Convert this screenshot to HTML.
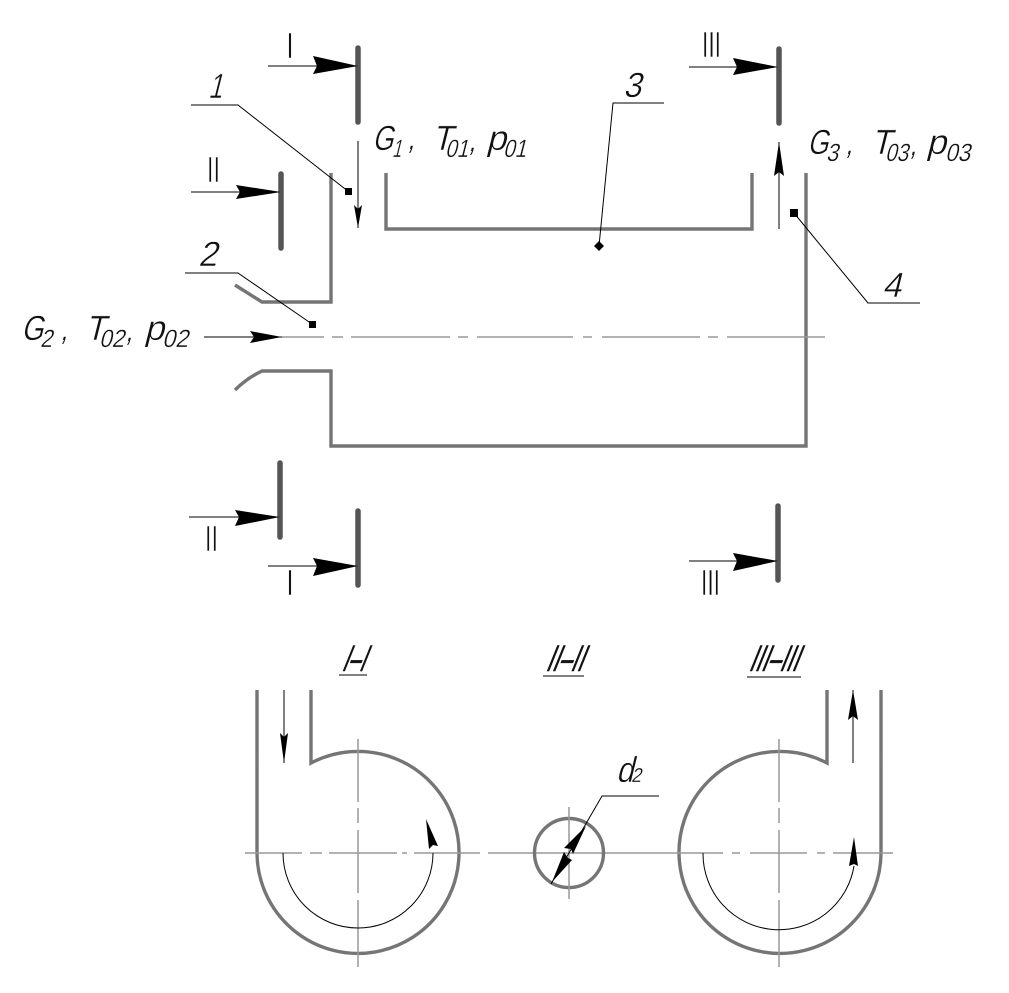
<!DOCTYPE html>
<html><head><meta charset="utf-8"><style>
html,body{margin:0;padding:0;background:#fff;width:1009px;height:993px;overflow:hidden}
svg{display:block}
text{font-family:"Liberation Sans",sans-serif;fill:#111;stroke:#fff;stroke-width:.45px;paint-order:fill stroke}
.w{fill:none;stroke:#757575;stroke-width:3.4;stroke-linejoin:miter}
.b{fill:none;stroke:#555;stroke-width:5.5;stroke-linecap:round}
.c{fill:none;stroke:#999;stroke-width:1.5}
.l{fill:none;stroke:#000;stroke-width:1}
.a{fill:#000;stroke:none}
.m{stroke-width:.5px}
.k{stroke:none;font-size:30px}
.u{font-size:25px;stroke-width:.3px}
.h{stroke:#111;stroke-width:.5px}
</style></head><body>
<svg width="1009" height="993" viewBox="0 0 1009 993" xmlns="http://www.w3.org/2000/svg">
<!-- section bars -->
<path class="b" d="M358 48V122M281 174V248M779 49V123M280 463V537M358 511V585M778 506V580"/>
<!-- body -->
<path class="w" d="M331 173V302H262L235 285"/>
<path class="w" d="M235 390Q247 378 262 371H331V446H806V173"/>
<path class="w" d="M386 173V229H752V173"/>
<!-- centre line main -->
<path class="c" d="M282 337H324M332 337H343M351 337H450M458 337H468M477 337H573M583 337H592M602 337H700M708 337H718M727 337H825"/>
<!-- section arrows -->
<g class="l">
<path d="M268 66H356M191 192H279M689 67H776M189 517H278M268 566H356M689 561H776"/>
<path d="M204 337H282M358 141V228M779 229V142"/>
<path d="M191 105H238L349 192M185 273H238L312 324M664 103H613L599 246M920 303H868L794 213"/>
</g>
<path class="a" d="M358 66L313 56L317 66L313 74Z"/>
<path class="a" d="M281 192L236 185L240 192L236 199Z"/>
<path class="a" d="M778 67L733 58L737 67L733 75Z"/>
<path class="a" d="M280 517L235 510L239 517L235 526Z"/>
<path class="a" d="M358 566L313 558L317 566L313 576Z"/>
<path class="a" d="M778 561L733 553L737 561L733 571Z"/>
<path class="a" d="M282 337L250 331L254 337L250 343Z"/>
<path class="a" d="M358 228L354 205L358 209L362 205Z"/>
<path class="a" d="M779 142L774 176L779 172L784 176Z"/>
<rect class="a" x="345" y="188" width="7" height="7"/>
<rect class="a" x="309" y="321" width="7" height="7"/>
<rect class="a" x="790" y="209" width="8" height="8"/>
<path class="a" d="M599 241L604 246L599 251L594 246Z"/>
<!-- roman numerals -->
<g font-size="36">
<text class="m" x="286.500" y="58" textLength="7" lengthAdjust="spacingAndGlyphs">I</text>
<text class="m" x="207" y="182" textLength="13" lengthAdjust="spacingAndGlyphs">II</text>
<text class="m" x="702" y="57" textLength="19" lengthAdjust="spacingAndGlyphs">III</text>
<text class="m" x="205" y="551" textLength="13" lengthAdjust="spacingAndGlyphs">II</text>
<text class="m" x="286.500" y="595" textLength="7" lengthAdjust="spacingAndGlyphs">I</text>
<text class="m" x="701" y="595" textLength="19" lengthAdjust="spacingAndGlyphs">III</text>
</g>
<!-- parameter labels -->
<g font-size="35">
<g transform="translate(372,150) skewX(-14)"><text textLength="21" lengthAdjust="spacingAndGlyphs">G</text></g>
<g transform="translate(392,157) skewX(-14)"><text class="u" textLength="9" lengthAdjust="spacingAndGlyphs">1</text></g>
<g transform="translate(408,149) skewX(-14)"><text class="k" textLength="6" lengthAdjust="spacingAndGlyphs">,</text></g>
<g transform="translate(432,150) skewX(-14)"><text textLength="20" lengthAdjust="spacingAndGlyphs">T</text></g>
<g transform="translate(445,157) skewX(-14)"><text class="u" textLength="23" lengthAdjust="spacingAndGlyphs">01</text></g>
<g transform="translate(469,151) skewX(-14)"><text class="k" textLength="6" lengthAdjust="spacingAndGlyphs">,</text></g>
<g transform="translate(486,150) skewX(-14)"><text textLength="20" lengthAdjust="spacingAndGlyphs">p</text></g>
<g transform="translate(503,157) skewX(-14)"><text class="u" textLength="23" lengthAdjust="spacingAndGlyphs">01</text></g>

<g transform="translate(21,340) skewX(-14)"><text textLength="22" lengthAdjust="spacingAndGlyphs">G</text></g>
<g transform="translate(40,347) skewX(-14)"><text class="u" textLength="12" lengthAdjust="spacingAndGlyphs">2</text></g>
<g transform="translate(61,340) skewX(-14)"><text class="k" textLength="6" lengthAdjust="spacingAndGlyphs">,</text></g>
<g transform="translate(85,340) skewX(-14)"><text textLength="20" lengthAdjust="spacingAndGlyphs">T</text></g>
<g transform="translate(99,347) skewX(-14)"><text class="u" textLength="25" lengthAdjust="spacingAndGlyphs">02</text></g>
<g transform="translate(126,341) skewX(-14)"><text class="k" textLength="6" lengthAdjust="spacingAndGlyphs">,</text></g>
<g transform="translate(144,340) skewX(-14)"><text textLength="20" lengthAdjust="spacingAndGlyphs">p</text></g>
<g transform="translate(162,347) skewX(-14)"><text class="u" textLength="26" lengthAdjust="spacingAndGlyphs">02</text></g>

<g transform="translate(807,154) skewX(-14)"><text textLength="21" lengthAdjust="spacingAndGlyphs">G</text></g>
<g transform="translate(826,161) skewX(-14)"><text class="u" textLength="12" lengthAdjust="spacingAndGlyphs">3</text></g>
<g transform="translate(846,154) skewX(-14)"><text class="k" textLength="6" lengthAdjust="spacingAndGlyphs">,</text></g>
<g transform="translate(871,154) skewX(-14)"><text textLength="20" lengthAdjust="spacingAndGlyphs">T</text></g>
<g transform="translate(885,161) skewX(-14)"><text class="u" textLength="23" lengthAdjust="spacingAndGlyphs">03</text></g>
<g transform="translate(910,155) skewX(-14)"><text class="k" textLength="6" lengthAdjust="spacingAndGlyphs">,</text></g>
<g transform="translate(926,154) skewX(-14)"><text textLength="20" lengthAdjust="spacingAndGlyphs">p</text></g>
<g transform="translate(945,161) skewX(-14)"><text class="u" textLength="25" lengthAdjust="spacingAndGlyphs">03</text></g>
</g>
<!-- callout numbers -->
<g font-size="35">
<g transform="translate(208,98) skewX(-14)"><text textLength="14" lengthAdjust="spacingAndGlyphs">1</text></g>
<g transform="translate(198,266) skewX(-14)"><text textLength="19" lengthAdjust="spacingAndGlyphs">2</text></g>
<g transform="translate(623,97) skewX(-14)"><text textLength="18" lengthAdjust="spacingAndGlyphs">3</text></g>
<g transform="translate(882,297) skewX(-14)"><text textLength="19" lengthAdjust="spacingAndGlyphs">4</text></g>
</g>
<!-- Section I-I -->
<path class="w" d="M257 690V853A101 101 0 1 0 311 763V690"/>
<path class="c" d="M245 853H302M310 853H322M329 853H397M402 853H407M414 853H480M488 853H623"/>
<path class="c" d="M358 739V802M358 808V823M358 830V893M358 900V967"/>
<path class="l" d="M284 690V763"/>
<path class="a" d="M284 763L280 733L284 737L288 733Z"/>
<path class="l" d="M283 853A75 75 0 0 0 433 853"/>
<path class="a" d="M426 819L429 849L433 845L438 846Z"/>
<!-- Section II-II -->
<circle cx="569" cy="853" r="34.500" class="w"/>
<path class="c" d="M569 807V899"/>
<path class="l" d="M551 884L602 796H659"/>
<path class="a" d="M552 882L564 852L568 858L572 860Z"/>
<path class="a" d="M586 826L564 848L571 849L573 854Z"/>
<!-- Section III-III -->
<path class="w" d="M881 690V853A101 101 0 1 1 827 763V690"/>
<path class="c" d="M623 853H723M732 853H740M750 853H807M817 853H825M833 853H893"/>
<path class="c" d="M779 739V802M779 808V823M779 830V893M779 900V967"/>
<path class="l" d="M853 763V690"/>
<path class="a" d="M853 690L848 720L853 716L858 720Z"/>
<path class="l" d="M703 853A76 76 0 0 0 854 866"/>
<path class="a" d="M854 837L849 866L854 864L858 866Z"/>
<!-- Section titles -->
<g font-size="37">
<g transform="translate(341,671) skewX(-22)"><text class="h" textLength="23" lengthAdjust="spacingAndGlyphs">I–I</text></g>
<g transform="translate(545,671) skewX(-22)"><text class="h" textLength="37" lengthAdjust="spacingAndGlyphs">II–II</text></g>
<g transform="translate(748,671) skewX(-22)"><text class="h" textLength="49" lengthAdjust="spacingAndGlyphs">III–III</text></g>
</g>
<path class="l" d="M339 675H367M543 676H584M747 677H801"/>
<g transform="translate(616,782) skewX(-14)"><text font-size="36" textLength="17" lengthAdjust="spacingAndGlyphs">d</text></g>
<g transform="translate(631,782) skewX(-14)"><text font-size="20" style="stroke-width:.2px" textLength="10" lengthAdjust="spacingAndGlyphs">2</text></g>
</svg>
</body></html>
